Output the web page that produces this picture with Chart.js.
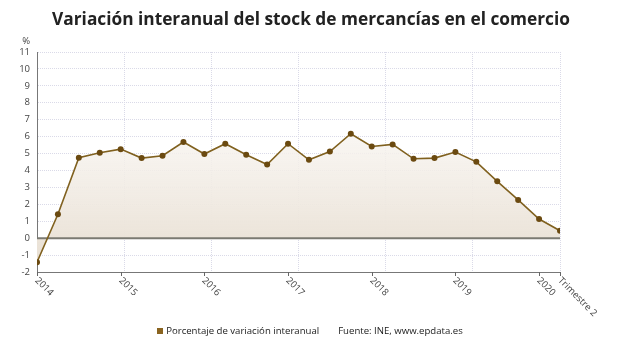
<!DOCTYPE html>
<html>
<head>
<meta charset="utf-8">
<script src="https://cdn.jsdelivr.net/npm/chart.js@4.4.1/dist/chart.umd.min.js"></script>
<style>
  body { margin: 0; background: #fff; font-family: 'Open Sans', sans-serif; }
  #wrap { position: relative; width: 620px; height: 350px; }
  #title { position: absolute; left: 0; top: 7px; width: 622px; text-align: center; font-size: 17.3px; font-weight: bold; color: #222; line-height: 24px; }
  #footer { position: absolute; left: 0; top: 324px; width: 620px; text-align: center; font-size: 9.6px; color: #1a1a1a; line-height: 14px; }
  #footer .sq { display: inline-block; width: 6px; height: 6px; background: #8a6420; margin-right: 3px; vertical-align: 0px; }
  #footer .src { margin-left: 19px; }
</style>
</head>
<body>
<div id="wrap">
  <canvas id="chart" width="620" height="350"></canvas>
  <div id="title"></div>
  <div id="footer"></div>
</div>
<script>
const titleText = 'Variación interanual del stock de mercancías en el comercio';
const seriesName = 'Porcentaje de variación interanual';
const sourceText = 'Fuente: INE, www.epdata.es';
const unitLabel = '%';

const quarters = [
  '2014-T1', '2014-T2', '2014-T3', '2014-T4',
  '2015-T1', '2015-T2', '2015-T3', '2015-T4',
  '2016-T1', '2016-T2', '2016-T3', '2016-T4',
  '2017-T1', '2017-T2', '2017-T3', '2017-T4',
  '2018-T1', '2018-T2', '2018-T3', '2018-T4',
  '2019-T1', '2019-T2', '2019-T3', '2019-T4',
  '2020-T1', '2020-T2'
];
const values = [
  -1.42, 1.41, 4.75, 5.05,
  5.26, 4.73, 4.87, 5.68,
  4.97, 5.58, 4.93, 4.35,
  5.58, 4.63, 5.12, 6.17,
  5.42, 5.54, 4.69, 4.73,
  5.09, 4.51, 3.36, 2.26,
  1.13, 0.44
];
const yMin = -2;
const yMax = 11;
const xGridDivisions = 6;

// label under the axis: year on first quarter, "Trimestre n" on the last one
function tickLabel(i) {
  const [year, q] = quarters[i].split('-');
  if (i === quarters.length - 1) return 'Trimestre ' + q.slice(1);
  if (q === 'T1') return year;
  return null;
}

document.getElementById('title').textContent = titleText;
document.getElementById('footer').innerHTML =
  '<span class="sq"></span>' + seriesName + '<span class="src">' + sourceText + '</span>';

const extras = {
  id: 'extras',
  beforeDatasetDraw(chart) {
    // zero line, over the fill and under the series line
    const { ctx, chartArea, scales: { y } } = chart;
    const py = y.getPixelForValue(0);
    ctx.save();
    ctx.strokeStyle = '#7b7a72';
    ctx.lineWidth = 2;
    ctx.beginPath();
    ctx.moveTo(chartArea.left, py);
    ctx.lineTo(chartArea.right, py);
    ctx.stroke();
    ctx.restore();
  },
  afterDraw(chart) {
    const { ctx, chartArea, scales: { x, y } } = chart;
    ctx.save();
    ctx.fillStyle = '#444';
    ctx.strokeStyle = '#666';
    ctx.lineWidth = 1;
    ctx.font = '9.5px "Open Sans"';

    // unit above the y axis
    ctx.textAlign = 'right';
    ctx.textBaseline = 'middle';
    ctx.fillText(unitLabel, y.right - 7, chartArea.top - 11);

    quarters.forEach((_, i) => {
      const label = tickLabel(i);
      if (!label) return;
      const px = Math.round(x.getPixelForValue(i)) + 0.5;
      ctx.beginPath();
      ctx.moveTo(px, chartArea.bottom);
      ctx.lineTo(px, chartArea.bottom + 4);
      ctx.stroke();
      ctx.save();
      ctx.translate(px - 1, chartArea.bottom + 7);
      ctx.rotate(Math.PI / 4);
      ctx.textAlign = 'left';
      ctx.textBaseline = 'middle';
      ctx.fillText(label, 0, 0);
      ctx.restore();
    });
    ctx.restore();
  }
};

const ctx = document.getElementById('chart').getContext('2d');
new Chart(ctx, {
  type: 'line',
  data: {
    datasets: [{
      label: seriesName,
      data: values.map((v, i) => ({ x: i, y: v })),
      borderColor: '#80611f',
      borderWidth: 1.6,
      pointRadius: 3,
      pointBackgroundColor: '#6b4a10',
      pointBorderWidth: 0,
      tension: 0,
      fill: 'origin',
      backgroundColor: (c) => {
        const { chartArea, scales } = c.chart;
        if (!chartArea) return 'rgba(0,0,0,0)';
        const g = c.chart.ctx.createLinearGradient(0, scales.y.getPixelForValue(6.5), 0, scales.y.getPixelForValue(yMin));
        g.addColorStop(0, 'rgba(248,245,241,0.8)');
        g.addColorStop(0.8, '#ebe3d8');
        g.addColorStop(1, '#e5dccf');
        return g;
      }
    }]
  },
  options: {
    animation: false,
    responsive: false,
    layout: { padding: { left: 0, right: 60, top: 52, bottom: 78 } },
    plugins: {
      legend: { display: false },
      tooltip: { enabled: false },
      title: { display: false }
    },
    scales: {
      x: {
        type: 'linear',
        min: 0,
        max: quarters.length - 1,
        afterBuildTicks: (scale) => {
          const span = quarters.length - 1;
          scale.ticks = Array.from({ length: xGridDivisions + 1 }, (_, k) => ({ value: k * span / xGridDivisions }));
        },
        afterFit: (scale) => { scale.height = 0; },
        ticks: { display: false },
        grid: { color: '#dadae8', lineWidth: 1, drawTicks: false },
        border: { display: true, color: '#777', width: 1, dash: [1, 1] }
      },
      y: {
        min: yMin,
        max: yMax,
        afterFit: (scale) => { scale.width = 37; },
        ticks: {
          stepSize: 1,
          padding: 7,
          color: '#444',
          font: { family: 'Open Sans', size: 9.5 }
        },
        grid: { color: '#dadae8', lineWidth: 1, drawTicks: false },
        border: { display: true, color: '#777', width: 1, dash: [1, 1] }
      }
    }
  },
  plugins: [extras]
});
</script>
</body>
</html>
